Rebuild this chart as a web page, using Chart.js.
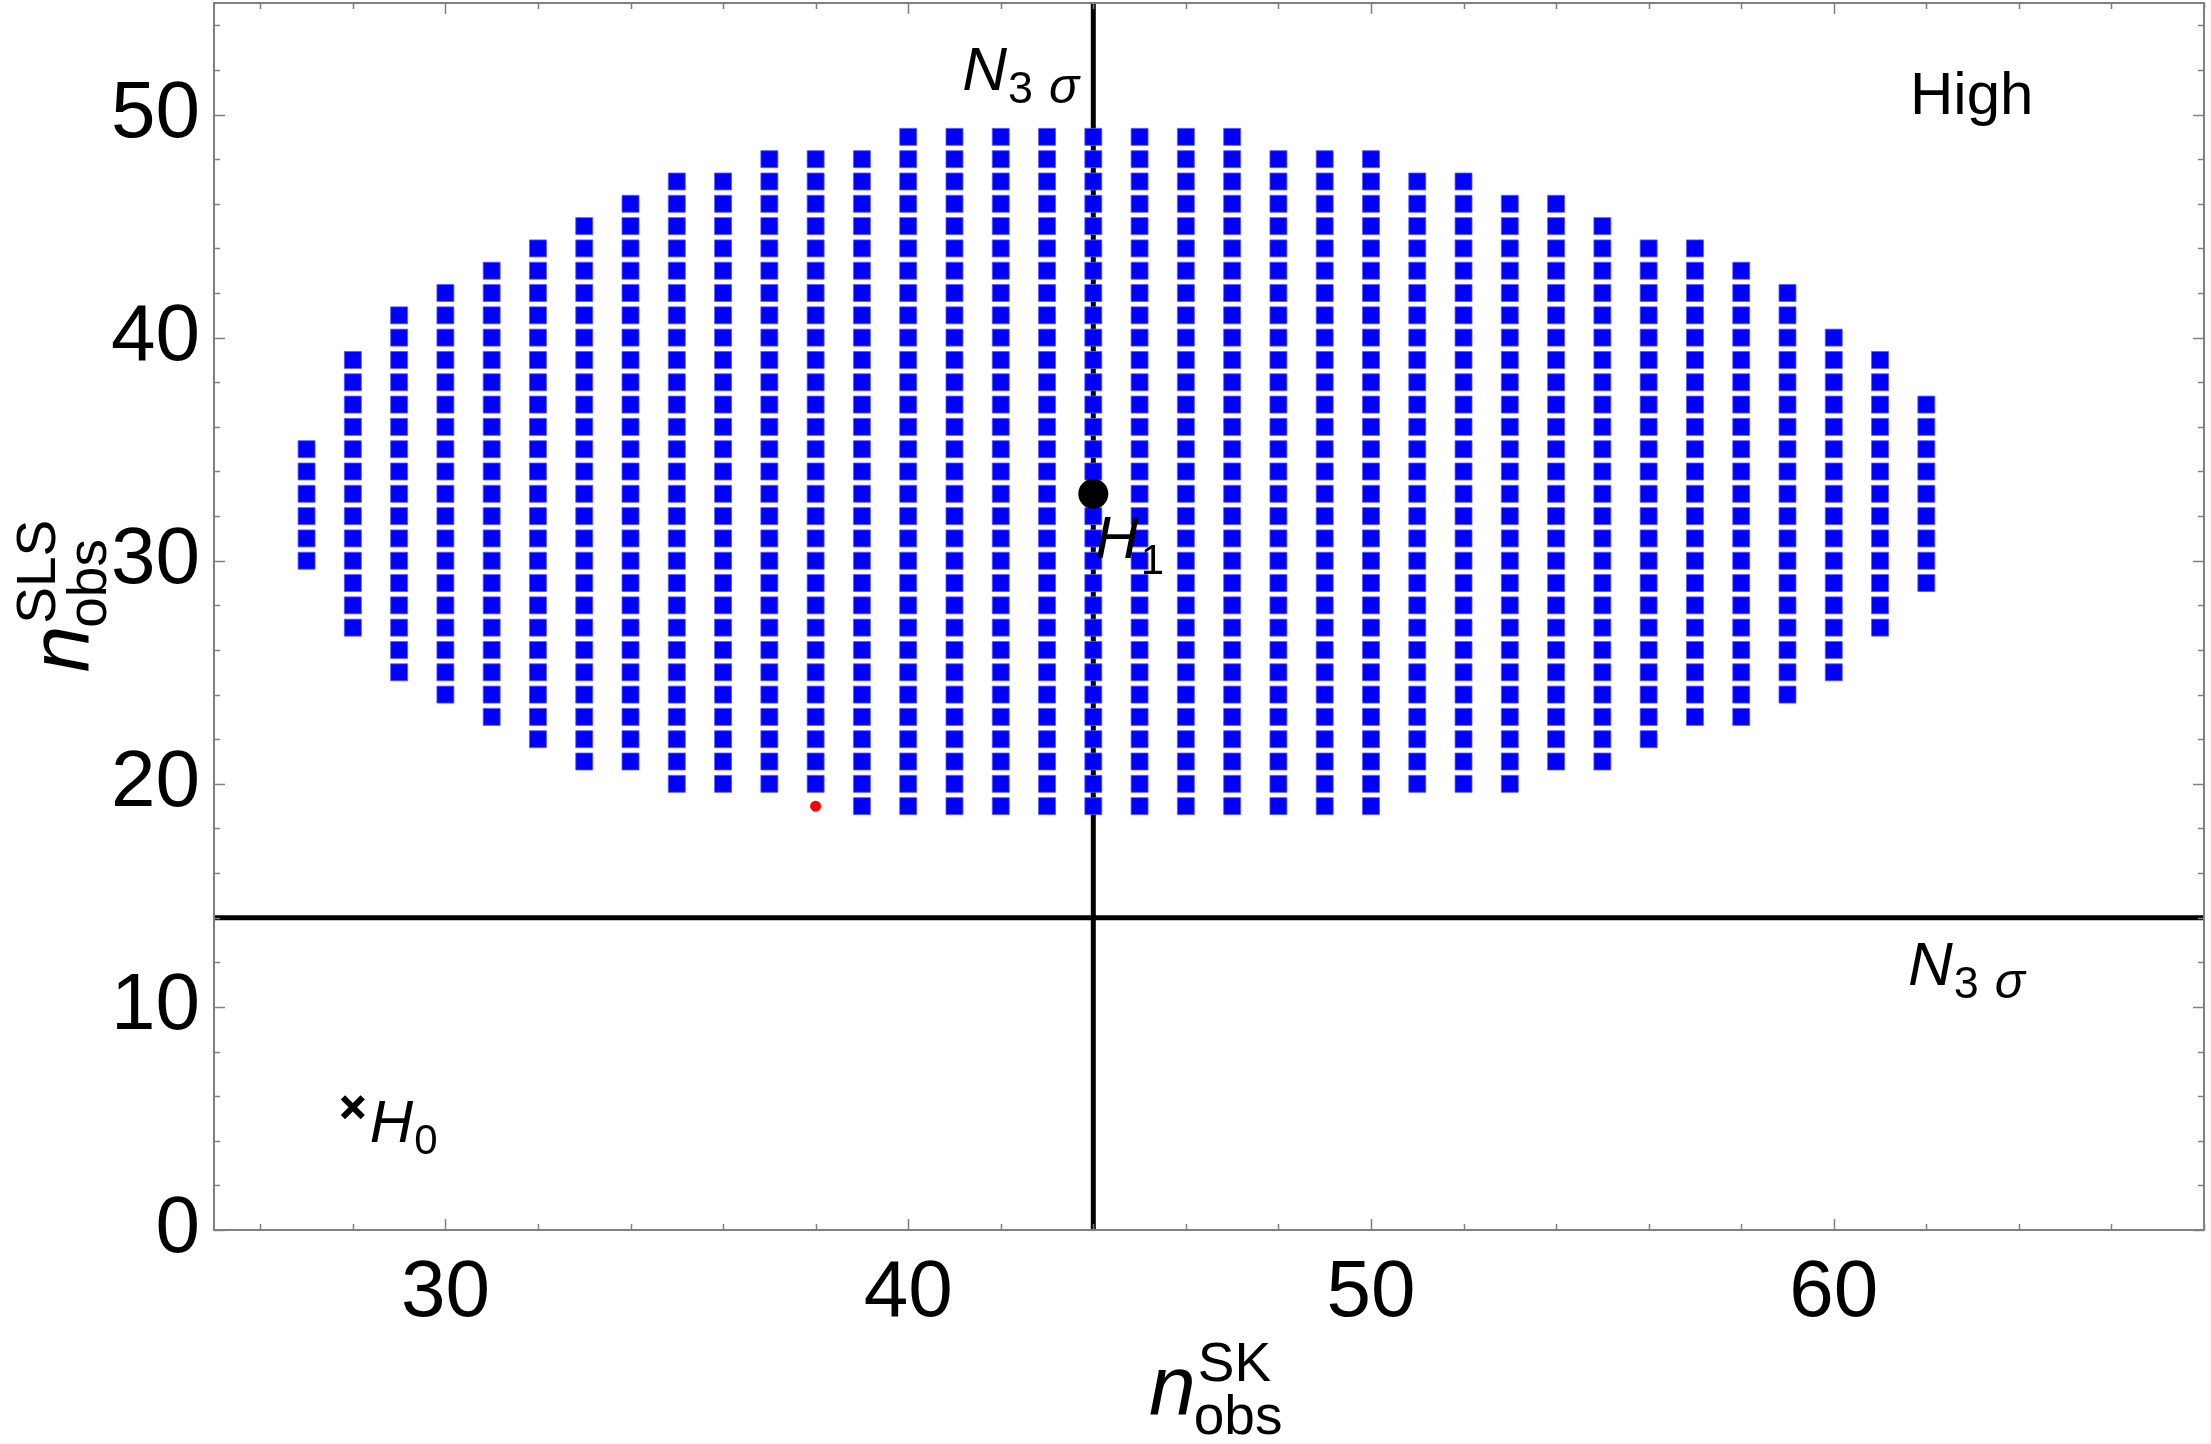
<!DOCTYPE html>
<html><head><meta charset="utf-8">
<script src="https://cdn.jsdelivr.net/npm/chart.js@4.4.0/dist/chart.umd.min.js"></script>
<style>html,body{margin:0;padding:0;background:#fff;}#wrap{width:2211px;height:1444px;}</style>
</head><body><div id="wrap"><canvas id="c" width="2211" height="1444"></canvas></div>
<script>
// ---- data ----
const colX   = [27,28,29,30,31,32,33,34,35,36,37,38,39,40,41,42,43,44,45,46,47,48,49,50,51,52,53,54,55,56,57,58,59,60,61,62];
const colMin = [30,27,25,24,23,22,21,21,20,20,20,20,19,19,19,19,19,19,19,19,19,19,19,19,20,20,20,21,21,22,23,23,24,25,27,29];
const colMax = [35,39,41,42,43,44,45,46,47,47,48,48,48,49,49,49,49,49,49,49,49,48,48,48,47,47,46,46,45,44,44,43,42,40,39,37];
const h1Point  = [{x:44, y:33}];
const h0Point  = [{x:28, y:5.5}];
const redPoint = [{x:38, y:19}];
const threshX = 44;
const threshY = 14;
const xTickLabels = [30,40,50,60];
const yTickLabels = [0,10,20,30,40,50];
const xRange = [25,68];
const yRange = [0,55];

// grid cells (each integer cell inside the read column range)
const cells = [];
colX.forEach((x,i)=>{ for(let y=colMin[i]; y<=colMax[i]; y++) cells.push({x:x,y:y}); });

const FONT = '"Liberation Sans", Arial, Helvetica, sans-serif';

const framePlugin = {
  id:'frame',
  afterDatasetsDraw(chart){
    const {ctx, chartArea:a, scales:{x, y}} = chart;
    ctx.save();
    ctx.strokeStyle = '#808080';
    ctx.lineWidth = 2;
    ctx.strokeRect(a.left, a.top, a.right-a.left, a.bottom-a.top);
    ctx.lineWidth = 1.5;
    const majX = new Set(xTickLabels), majY = new Set(yTickLabels);
    for(let v=26; v<=xRange[1]; v+=2){
      const px = Math.round(x.getPixelForValue(v))+0.5;
      const L = majX.has(v)?11:6;
      ctx.beginPath();
      ctx.moveTo(px,a.bottom); ctx.lineTo(px,a.bottom-L);
      ctx.moveTo(px,a.top); ctx.lineTo(px,a.top+L);
      ctx.stroke();
    }
    for(let v=0; v<=yRange[1]; v+=2){
      const py = Math.round(y.getPixelForValue(v))+0.5;
      const L = majY.has(v)?11:6;
      ctx.beginPath();
      ctx.moveTo(a.left,py); ctx.lineTo(a.left+L,py);
      ctx.moveTo(a.right,py); ctx.lineTo(a.right-L,py);
      ctx.stroke();
    }
    ctx.restore();
  },
  afterDraw(chart){
    const {ctx, chartArea:a, scales:{x, y}} = chart;
    ctx.save();
    ctx.fillStyle = '#000';
    ctx.textBaseline = 'alphabetic';
    const vx = x.getPixelForValue(threshX);
    function n3s(left, base){
      ctx.font = 'italic 62px '+FONT; ctx.fillText('N', left, base);
      let w = ctx.measureText('N').width;
      ctx.font = '45px '+FONT; ctx.fillText('3', left+w+1, base+13);
      let w3 = ctx.measureText('3').width;
      ctx.font = 'italic 50px '+FONT; ctx.fillText('σ', left+w+1+w3+16, base+13);
    }
    // N_3sigma next to vertical line (top)
    n3s(vx-131, a.top+87);
    // N_3sigma under horizontal line (right)
    const hy = y.getPixelForValue(threshY);
    n3s(1908, hy+67);
    // High
    ctx.font = '60px '+FONT;
    ctx.fillText('High', 1910, a.top+111);
    // H1
    const h1x = x.getPixelForValue(h1Point[0].x), h1y = y.getPixelForValue(h1Point[0].y);
    ctx.font = 'italic 60px '+FONT; ctx.fillText('H', h1x+2, h1y+64);
    let wh = ctx.measureText('H').width;
    ctx.font = '42px '+FONT; ctx.fillText('1', h1x+2+wh+2, h1y+80);
    // H0
    const h0x = x.getPixelForValue(h0Point[0].x), h0y = y.getPixelForValue(h0Point[0].y);
    ctx.font = 'italic 60px '+FONT; ctx.fillText('H', h0x+17, h0y+35);
    wh = ctx.measureText('H').width;
    ctx.font = '42px '+FONT; ctx.fillText('0', h0x+17+wh+1, h0y+47);

    // x axis title: n^SK_obs
    const cx = (a.left+a.right)/2;
    ctx.font = 'italic 84px '+FONT;
    const wn = ctx.measureText('n').width;
    const startX = cx - 60;
    ctx.fillText('n', startX, 1414);
    ctx.font = '55px '+FONT;
    ctx.fillText('SK', startX+wn+2, 1381);
    ctx.fillText('obs', startX+wn-2, 1434);
    // y axis title rotated: n^SLS_obs
    const cy = (a.top+a.bottom)/2;
    ctx.save();
    ctx.translate(88, cy+56);
    ctx.rotate(-Math.PI/2);
    ctx.font = 'italic 84px '+FONT;
    ctx.fillText('n', 0, 0);
    ctx.font = '55px '+FONT;
    ctx.fillText('SLS', wn+2, -33);
    ctx.fillText('obs', wn-2, 18);
    ctx.restore();
    ctx.restore();
  }
};

new Chart(document.getElementById('c'), {
  type:'scatter',
  data:{ datasets:[
    {label:'H1', data:h1Point, pointStyle:'circle', pointRadius:15, pointBackgroundColor:'#000', pointBorderWidth:0, order:0},
    {label:'H0', data:h0Point, pointStyle:'crossRot', pointRadius:14, pointBorderColor:'#000', pointBorderWidth:6, order:0},
    {label:'red', data:redPoint, pointStyle:'circle', pointRadius:5.5, pointBackgroundColor:'#ff0000', pointBorderWidth:0, order:1},
    {label:'region', data:cells, pointStyle:'rect', pointRadius:12, pointBackgroundColor:'#0000ff', pointBorderColor:'#5a5aff', pointBorderWidth:0.8, order:1},
    {label:'vline', type:'line', data:[{x:threshX,y:yRange[0]},{x:threshX,y:yRange[1]}], borderColor:'#000', borderWidth:5, pointRadius:0, order:2},
    {label:'hline', type:'line', data:[{x:xRange[0],y:threshY},{x:xRange[1],y:threshY}], borderColor:'#000', borderWidth:5, pointRadius:0, order:2}
  ]},
  options:{
    responsive:false, animation:false, devicePixelRatio:1,
    layout:{autoPadding:false, padding:{top:3,right:7,left:0,bottom:0}},
    plugins:{legend:{display:false}, tooltip:{enabled:false}},
    scales:{
      x:{type:'linear', min:xRange[0], max:xRange[1],
         grid:{display:false, drawTicks:false}, border:{display:false},
         afterBuildTicks(s){ s.ticks = xTickLabels.map(v=>({value:v})); },
         afterFit(s){ s.height = 214; s.paddingLeft = 0; s.paddingRight = 0; s.paddingTop = 0; s.paddingBottom = 0; },
         ticks:{font:{family:FONT, size:80}, color:'#000', padding:16, maxRotation:0, autoSkip:false}},
      y:{type:'linear', min:yRange[0], max:yRange[1],
         grid:{display:false, drawTicks:false}, border:{display:false},
         afterBuildTicks(s){ s.ticks = yTickLabels.map(v=>({value:v})); },
         afterFit(s){ s.width = 214; s.paddingLeft = 0; s.paddingRight = 0; s.paddingTop = 0; s.paddingBottom = 0; },
         ticks:{font:{family:FONT, size:80}, color:'#000', padding:14, autoSkip:false}}
    }
  },
  plugins:[framePlugin]
});
</script></body></html>
